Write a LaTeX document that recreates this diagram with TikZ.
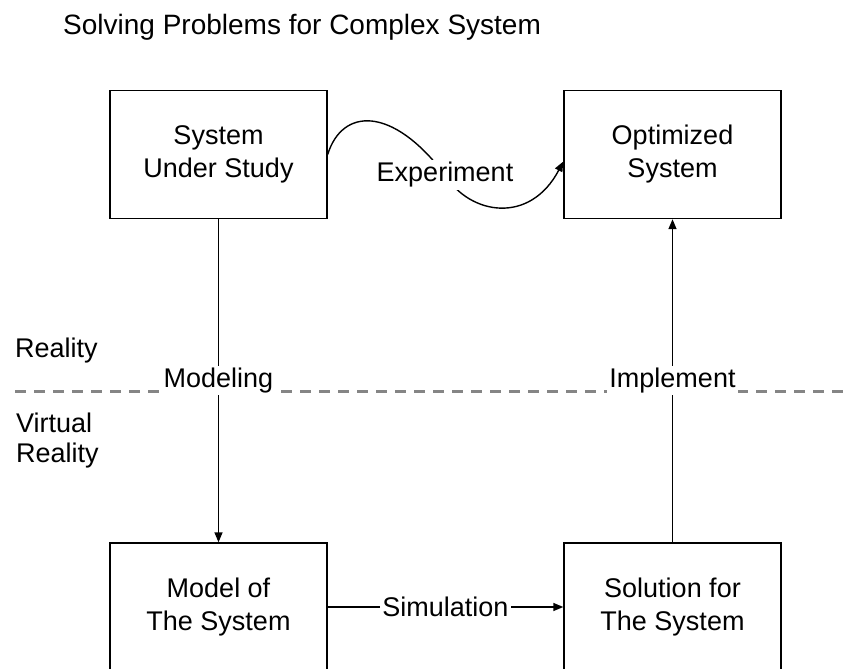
\documentclass[tikz,border=0pt]{standalone}
\usepackage{fontspec}
\setmainfont{Liberation Sans}
\usetikzlibrary{arrows.meta, positioning}
\definecolor{dashgray}{HTML}{858585}

\begin{document}
\begin{tikzpicture}[x=1pt, y=-1pt,
  every node/.style={font=\fontsize{27}{33}\selectfont},
  stage/.style={draw, line width=1.4pt, minimum width=217pt, minimum height=128pt, align=center},
  flowlabel/.style={fill=white, inner sep=2pt},
  flow/.style={line width=1.4pt, -{Triangle[length=10pt, width=8pt]}}]
  % page frame (pixel-like units, y grows downwards)
  \useasboundingbox (0,0) rectangle (851,669);
  \node[anchor=base west, inner sep=0pt, font=\fontsize{28}{33}\selectfont] (title) at (63,35)
    {Solving Problems for Complex System};

  % the four stages
  \node[stage] (sus)   at (218.5,154.5) {System\\Under Study};
  \node[stage] (opt)   at (672.5,154.5) {Optimized\\System};
  \node[stage] (model) at (218.5,607)   {Model of\\The System};
  \node[stage] (sol)   at (672.5,607)   {Solution for\\The System};

  % border between the real world and the virtual one
  \draw[dashgray, line width=3pt, dash pattern=on 11pt off 8pt] (15,391) -- (851,391);
  \node[anchor=base west, inner sep=0pt] (real) at (15,357) {Reality};
  \node[anchor=north west, align=left, inner sep=0pt,
    font=\fontsize{27}{30}\selectfont] (virt) at (16,413) {Virtual\\Reality};

  % connectors
  \draw[flow] (sus) -- node[flowlabel] (mdl) {Modeling} (model);
  \draw[flow] (model) -- node[flowlabel] (sim) {Simulation} (sol);
  \draw[flow] (sol) -- node[flowlabel] (imp) {Implement} (opt);
  % the direct way: experiment on the real system
  \draw[flow] (sus.east) .. controls (342,108) and (392,105) .. (445,175)
    node[flowlabel] (exp) {Experiment}
    .. controls (470,215) and (530,225) .. ([yshift=-7pt]opt.west);
\end{tikzpicture}
\end{document}
